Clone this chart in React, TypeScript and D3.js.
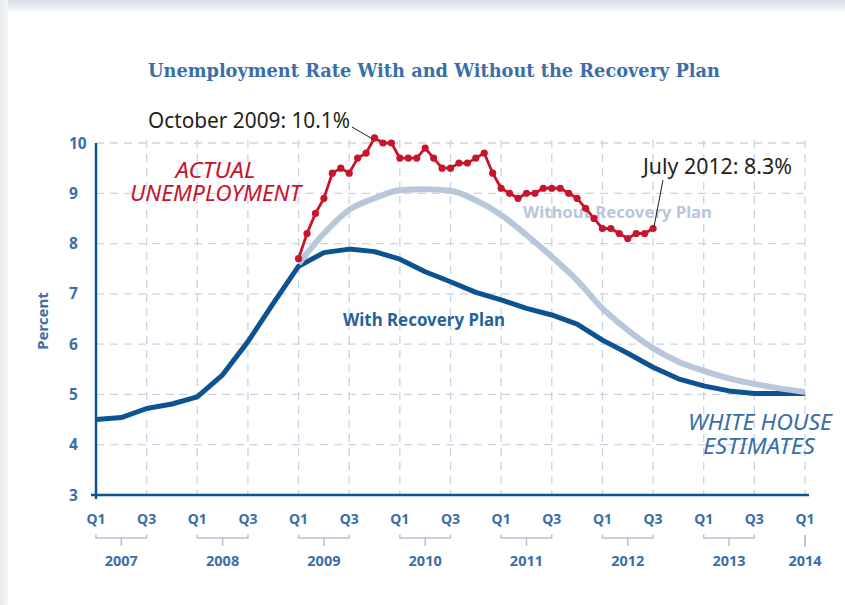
import React from "react";
import * as d3 from "d3";

// Quarter labels, Q1 2007 .. Q1 2014 (half-year ticks)
const halfYearTicks = ["Q1","Q3","Q1","Q3","Q1","Q3","Q1","Q3","Q1","Q3","Q1","Q3","Q1","Q3","Q1"];
const years = ["2007","2008","2009","2010","2011","2012","2013","2014"];
const yTicks = [3,4,5,6,7,8,9,10];

// With Recovery Plan, quarterly Q1 2007 .. Q1 2014
const withPlan = [4.50,4.54,4.72,4.81,4.95,5.39,6.05,6.81,7.55,7.82,7.89,7.84,7.69,7.44,7.24,7.03,6.88,6.71,6.58,6.40,6.08,5.82,5.54,5.31,5.17,5.07,5.02,5.02,5.02];
// Without Recovery Plan, quarterly Q1 2009 .. Q1 2014
const withoutPlanStart = 8; // quarter index of Q1 2009
const withoutPlan = [7.60,8.20,8.67,8.90,9.06,9.08,9.05,8.86,8.57,8.17,7.74,7.27,6.71,6.28,5.92,5.65,5.47,5.32,5.21,5.12,5.05];
// Actual unemployment, monthly Jan 2009 .. Jul 2012
const actualStart = 8; // Jan 2009 = quarter index 8
const actual = [
  7.7,8.2,8.6,8.9,9.4,9.5,9.4,9.7,9.8,10.1,10.0,10.0,
  9.7,9.7,9.7,9.9,9.7,9.5,9.5,9.6,9.6,9.7,9.8,9.4,
  9.1,9.0,8.9,9.0,9.0,9.1,9.1,9.1,9.0,8.9,8.7,8.5,
  8.3,8.3,8.2,8.1,8.2,8.2,8.3
];

const x = d3.scaleLinear().domain([0, 28]).range([96, 805]);
const y = d3.scaleLinear().domain([3, 10]).range([495, 143]);

const RED = "#c8152b";
const DARK = "#0d5291";
const LIGHT = "#b8c7da";
const LABEL = "#3a6ea8";
const GRID = "#c9d5e4";
const BRACKET = "#b3c2d5";
const SANS = "'Noto Sans', 'Open Sans', sans-serif";

export default function App() {
  const lineQ = d3.line<number>().x((_, i) => x(i)).y((d) => y(d));
  const lineW = d3.line<number>().x((_, i) => x(withoutPlanStart + i)).y((d) => y(d)).curve(d3.curveMonotoneX);
  const lineA = d3.line<number>().x((_, i) => x(actualStart + i / 3)).y((d) => y(d));

  const oct = { i: 9, v: actual[9] };
  const jul = { i: actual.length - 1, v: actual[actual.length - 1] };

  return (
    <svg width={845} height={605} style={{ position: "absolute", left: 0, top: 0 }}>
      <defs>
        <linearGradient id="topShadow" x1="0" y1="0" x2="0" y2="1">
          <stop offset="0" stopColor="#d9dee5" />
          <stop offset="1" stopColor="#f4f6f8" />
        </linearGradient>
        <linearGradient id="leftShadow" x1="0" y1="0" x2="1" y2="0">
          <stop offset="0" stopColor="#e6e9ee" />
          <stop offset="1" stopColor="#f6f7f9" />
        </linearGradient>
      </defs>
      <rect x={0} y={0} width={845} height={605} fill="#ffffff" />
      <rect x={0} y={0} width={845} height={11} fill="url(#topShadow)" />
      <rect x={0} y={0} width={8} height={605} fill="url(#leftShadow)" />

      {/* Title */}
      <text x={434} y={77} textAnchor="middle" fontFamily="'DejaVu Serif', serif" fontWeight="bold" fontSize={18}
        fill={LABEL} textLength={572} lengthAdjust="spacingAndGlyphs">
        Unemployment Rate With and Without the Recovery Plan
      </text>

      {/* Grid */}
      {yTicks.filter((t) => t > 3).map((t) => (
        <line key={"h" + t} x1={x(0)} x2={x(28) + 3} y1={y(t)} y2={y(t)} stroke={GRID} strokeWidth={1.3} strokeDasharray="8,6" />
      ))}
      {halfYearTicks.map((_, i) => i > 0 ? (
        <line key={"v" + i} x1={x(i * 2)} x2={x(i * 2)} y1={y(10) - 3} y2={y(3)} stroke={GRID} strokeWidth={1.3} strokeDasharray="8,6" />
      ) : null)}

      {/* Axes */}
      <line x1={91} x2={809} y1={y(3)} y2={y(3)} stroke={DARK} strokeWidth={2.5} />
      <line x1={x(0)} x2={x(0)} y1={y(10)} y2={y(3) + 4} stroke={DARK} strokeWidth={2.5} />

      {/* Y tick labels */}
      {yTicks.map((t) => (
        <text key={"yl" + t} x={69} y={y(t) + 5.5} fontFamily={SANS} fontWeight="bold" fontSize={15.5} fill={LABEL}>{t}</text>
      ))}
      <text transform={`translate(48,${321}) rotate(-90)`} textAnchor="middle" fontFamily={SANS} fontWeight="bold" fontSize={15} fill={LABEL}>Percent</text>

      {/* X tick labels */}
      {halfYearTicks.map((q, i) => (
        <text key={"xl" + i} x={x(i * 2)} y={523.5} textAnchor="middle" fontFamily={SANS} fontWeight="bold" fontSize={14} fill={LABEL}>{q}</text>
      ))}
      {years.map((yr, i) => {
        const x0 = x(i * 4);
        const x1 = x(i * 4 + 2);
        const last = i === years.length - 1;
        const cx = last ? x0 : (x0 + x1) / 2;
        return (
          <g key={"yr" + yr}>
            {last ? (
              <line x1={x0} x2={x0} y1={535} y2={547} stroke={BRACKET} strokeWidth={1.8} />
            ) : (
              <>
                <polyline points={`${x0},${534.5} ${x0},${538} ${x1},${538} ${x1},${534.5}`} fill="none" stroke={BRACKET} strokeWidth={1.5} />
                <line x1={cx} x2={cx} y1={538} y2={546} stroke={BRACKET} strokeWidth={1.5} />
              </>
            )}
            <text x={cx} y={565.5} textAnchor="middle" fontFamily={SANS} fontWeight="bold" fontSize={14.5} fill={LABEL}>{yr}</text>
          </g>
        );
      })}

      {/* Series labels */}
      <text x={523} y={217.5} fontFamily={SANS} fontWeight="bold" fontSize={16.5} fill={LIGHT} textLength={189} lengthAdjust="spacingAndGlyphs">Without Recovery Plan</text>
      <text x={343} y={325.5} fontFamily={SANS} fontWeight="bold" fontSize={17} fill={DARK} opacity={0.9} textLength={162} lengthAdjust="spacingAndGlyphs">With Recovery Plan</text>

      {/* Lines */}
      <path d={lineQ(withPlan) || ""} fill="none" stroke={DARK} strokeWidth={5} strokeLinejoin="round" />
      <path d={lineW(withoutPlan) || ""} fill="none" stroke={LIGHT} strokeWidth={6} strokeLinejoin="round" />
      <path d={lineA(actual) || ""} fill="none" stroke={RED} strokeWidth={2.8} strokeLinejoin="round" />
      {actual.map((v, i) => (
        <circle key={"p" + i} cx={x(actualStart + i / 3)} cy={y(v)} r={3.6} fill={RED} />
      ))}

      {/* Annotations */}
      <text x={148} y={128} fontFamily={SANS} fontSize={21} fill="#231f20" textLength={202} lengthAdjust="spacingAndGlyphs">October 2009: 10.1%</text>
      <line x1={352} y1={127} x2={x(actualStart + oct.i / 3) - 2} y2={y(oct.v) + 1} stroke="#231f20" strokeWidth={1} />
      <text x={643} y={174} fontFamily={SANS} fontSize={21} fill="#231f20" textLength={149} lengthAdjust="spacingAndGlyphs">July 2012: 8.3%</text>
      <line x1={663} y1={180} x2={x(actualStart + jul.i / 3) + 1} y2={y(jul.v) - 2} stroke="#231f20" strokeWidth={1} />

      <text textAnchor="middle" fontFamily={SANS} fontStyle="italic" fontSize={21} fill={RED}>
        <tspan x={215.5} y={178} textLength={80} lengthAdjust="spacingAndGlyphs">ACTUAL</tspan>
        <tspan x={215.5} y={201} textLength={171} lengthAdjust="spacingAndGlyphs">UNEMPLOYMENT</tspan>
      </text>

      <text textAnchor="middle" fontFamily={SANS} fontStyle="italic" fontSize={22} fill={LABEL}>
        <tspan x={760} y={430} textLength={144} lengthAdjust="spacingAndGlyphs">WHITE HOUSE</tspan>
        <tspan x={759} y={454} textLength={112} lengthAdjust="spacingAndGlyphs">ESTIMATES</tspan>
      </text>
    </svg>
  );
}
